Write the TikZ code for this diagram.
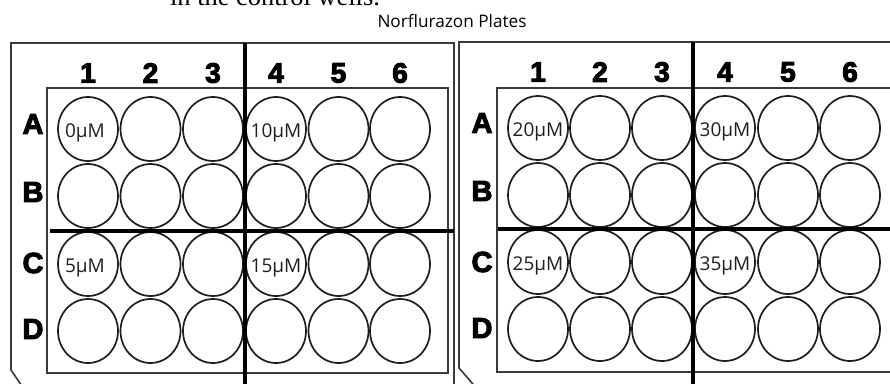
\documentclass[tikz,border=0pt]{standalone}
\usepackage{fontspec}
\setmainfont{Liberation Serif}
\newfontfamily\labfont{Liberation Sans}
\newfontfamily\wellfont{Open Sans}
\usetikzlibrary{shapes.geometric}
\definecolor{frame}{HTML}{3A3A3A}
\definecolor{ink}{HTML}{1E1E1E}
\newcommand\heavytext[1]{\special{pdf:literal direct 2 Tr 1.0 w}#1\special{pdf:literal direct 0 Tr}}
\tikzset{
  framebox/.style={draw=frame, line width=1.6pt},
  thickline/.style={draw=black, line width=3.4pt},
  well/.style={ellipse, draw=ink, line width=1.7pt, minimum width=60pt, minimum height=64pt, inner sep=0pt},
  collab/.style={font=\labfont\bfseries\fontsize{28}{28}\selectfont, inner sep=0pt},
  rowlab/.style={font=\labfont\bfseries\fontsize{29}{29}\selectfont, inner sep=0pt},
  conc/.style={font=\wellfont\fontsize{19}{19}\selectfont, inner sep=0pt, anchor=base, text=ink},
}
\begin{document}
\begin{tikzpicture}[x=1pt,y=-1pt]
\path[use as bounding box, clip] (0,0) rectangle (890,383);
\fill[white] (0,0) rectangle (890,383);
% cut-off caption at top
\node[font=\fontsize{26.4}{26.4}\selectfont, anchor=base, inner sep=0pt] (caption) at (275,5) {in the control wells.};
\node[font=\wellfont\fontsize{17.2}{17.2}\selectfont, anchor=base, inner sep=0pt] (title) at (452,27) {Norflurazon Plates};
% left plate
\draw[framebox] (454,400) -- (454,43) -- (11,43) -- (11,370) -- (30,398);
\draw[framebox] (47,88) rectangle (448,373);
% right plate
\draw[framebox] (900,42) -- (459,42) -- (459,368) -- (485,398);
\draw[framebox] (910,88) -- (497,88) -- (497,372) -- (910,372);
% column labels and wells
\foreach \c/\x in {1/88,2/150.5,3/213,4/276,5/338.5,6/400}{
  \node[collab] (L-col\c) at (\x,73) {\heavytext{\c}};
  \foreach \r/\y in {A/129,B/196,C/264,D/331}{
    \node[well] (L-\r\c) at (\x,\y) {};
  }
}
\foreach \c/\x in {1/538,2/600,3/662,4/725,5/788,6/850}{
  \node[collab] (R-col\c) at (\x,72) {\heavytext{\c}};
  \foreach \r/\y in {A/128,B/195,C/262,D/329}{
    \node[well] (R-\r\c) at (\x,\y) {};
  }
}
% row labels
\foreach \r/\y in {A/124,B/192,C/263,D/329}{
  \node[rowlab] (L-row\r) at (33,\y) {\heavytext{\r}};
  \node[rowlab] (R-row\r) at (482,\y-1) {\heavytext{\r}};
}
% thick dividers
\draw[thickline] (245,43) -- (245,390);
\draw[thickline] (50,231) -- (454,231);
\draw[thickline] (693,42) -- (693,390);
\draw[thickline] (498,229) -- (900,229);
% concentrations
\node[conc] (c0) at ([xshift=-3pt,yshift=-8pt]L-A1.center) {0µM};
\node[conc] (c10) at ([yshift=-8pt]L-A4.center) {10µM};
\node[conc] (c5) at ([xshift=-3pt,yshift=-8pt]L-C1.center) {5µM};
\node[conc] (c15) at ([yshift=-8pt]L-C4.center) {15µM};
\node[conc] (c20) at ([yshift=-8pt]R-A1.center) {20µM};
\node[conc] (c30) at ([yshift=-8pt]R-A4.center) {30µM};
\node[conc] (c25) at ([yshift=-8pt]R-C1.center) {25µM};
\node[conc] (c35) at ([yshift=-8pt]R-C4.center) {35µM};
\end{tikzpicture}
\end{document}
